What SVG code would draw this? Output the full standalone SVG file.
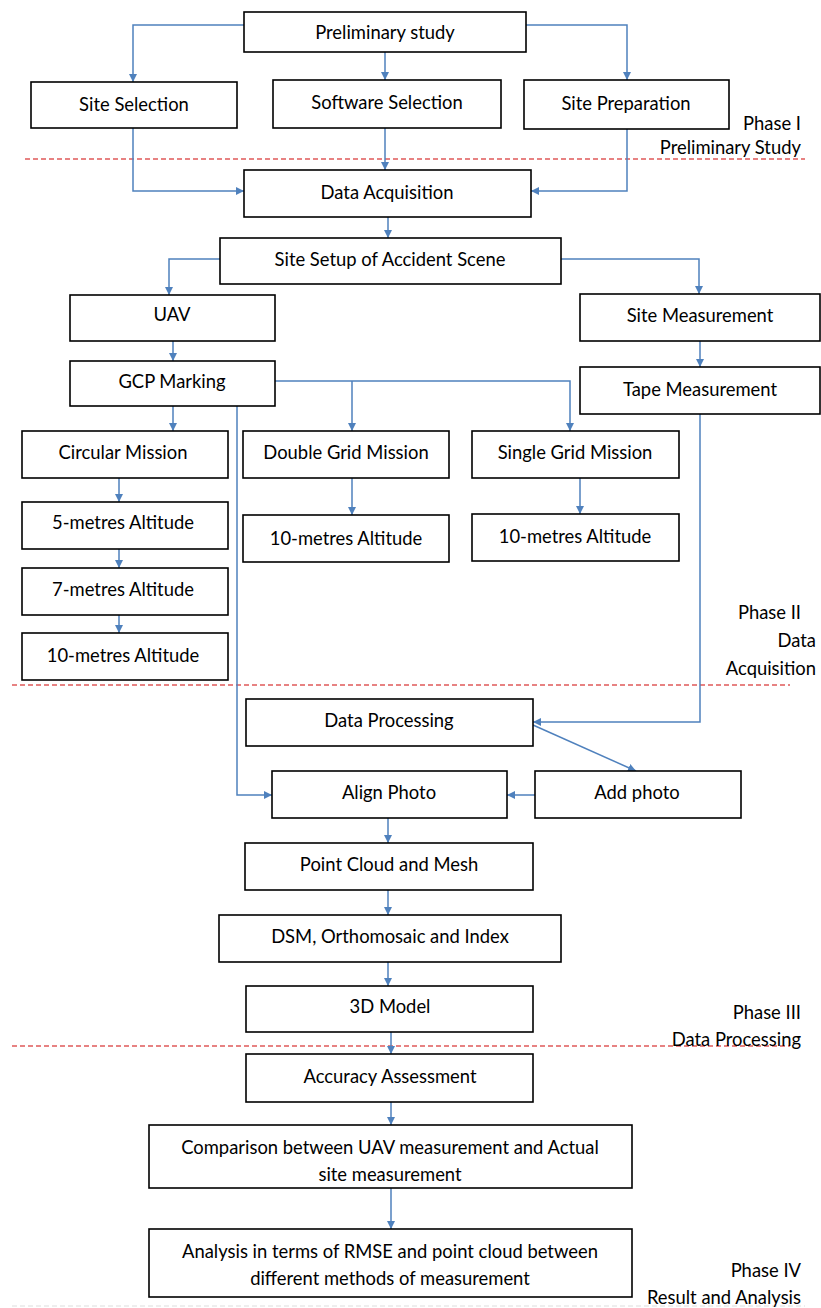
<svg xmlns="http://www.w3.org/2000/svg" width="821" height="1308" viewBox="0 0 821 1308">
<defs>
<style>
.box{fill:#fff;stroke:#000;stroke-width:1.6}
.t{font-family:Lato,"Open Sans",sans-serif;font-size:18.4px;fill:#000;text-anchor:middle;dominant-baseline:central}
.ph{font-family:Lato,"Open Sans",sans-serif;font-size:18.4px;fill:#000;text-anchor:end;dominant-baseline:central}
.c{fill:none;stroke:#4f81bd;stroke-width:1.5}
.red{stroke:#e05a5a;stroke-width:1.5;stroke-dasharray:5 3}
</style>
<marker id="a" viewBox="0 0 10 10" refX="10" refY="5" markerWidth="8" markerHeight="8" markerUnits="userSpaceOnUse" orient="auto"><path d="M0,0 L10,5 L0,10 z" fill="#4f81bd"/></marker>
</defs>
<rect width="821" height="1308" fill="#fff"/>
<g id="dividers">
<line class="red" x1="25" y1="159" x2="805" y2="159"/>
<line class="red" x1="12" y1="685" x2="790" y2="685"/>
<line class="red" x1="12" y1="1046" x2="790" y2="1046"/>
<line x1="12" y1="1306" x2="805" y2="1306" stroke="#ddd" stroke-width="1" stroke-dasharray="5 3"/>
</g>
<g id="phases">
<text class="ph" x="801" y="123">Phase I</text>
<text class="ph" x="801" y="147">Preliminary Study</text>
<text class="ph" x="801" y="612">Phase II</text>
<text class="ph" x="816" y="640">Data</text>
<text class="ph" x="816" y="668">Acquisition</text>
<text class="ph" x="801" y="1012">Phase III</text>
<text class="ph" x="801" y="1039">Data Processing</text>
<text class="ph" x="801" y="1270">Phase IV</text>
<text class="ph" x="801" y="1297">Result and Analysis</text>
</g>
<g id="connectors">
<path class="c" d="M244,25 H133 V82" marker-end="url(#a)"/>
<path class="c" d="M526,25 H627 V80" marker-end="url(#a)"/>
<path class="c" d="M385,52 V80" marker-end="url(#a)"/>
<path class="c" d="M133,128 V191 H244" marker-end="url(#a)"/>
<path class="c" d="M385,128 V170" marker-end="url(#a)"/>
<path class="c" d="M627,129 V191 H531" marker-end="url(#a)"/>
<path class="c" d="M388,217 V238" marker-end="url(#a)"/>
<path class="c" d="M220,259 H169 V295" marker-end="url(#a)"/>
<path class="c" d="M561,259 H699 V294" marker-end="url(#a)"/>
<path class="c" d="M173,341 V361" marker-end="url(#a)"/>
<path class="c" d="M700,341 V367" marker-end="url(#a)"/>
<path class="c" d="M275,381 H570 V431" marker-end="url(#a)"/>
<path class="c" d="M352,381 V431" marker-end="url(#a)"/>
<path class="c" d="M173,406 V431" marker-end="url(#a)"/>
<path class="c" d="M237,406 V795 H272" marker-end="url(#a)"/>
<path class="c" d="M119,478 V502" marker-end="url(#a)"/>
<path class="c" d="M119,549 V568" marker-end="url(#a)"/>
<path class="c" d="M119,615 V633" marker-end="url(#a)"/>
<path class="c" d="M352,478 V515" marker-end="url(#a)"/>
<path class="c" d="M580,478 V514" marker-end="url(#a)"/>
<path class="c" d="M700,414 V722 H533" marker-end="url(#a)"/>
<path class="c" d="M533,725 L636,771" marker-end="url(#a)"/>
<path class="c" d="M535,795 H507" marker-end="url(#a)"/>
<path class="c" d="M388,818 V843" marker-end="url(#a)"/>
<path class="c" d="M388,890 V915" marker-end="url(#a)"/>
<path class="c" d="M388,962 V986" marker-end="url(#a)"/>
<path class="c" d="M391,1032 V1054" marker-end="url(#a)"/>
<path class="c" d="M391,1102 V1125" marker-end="url(#a)"/>
<path class="c" d="M391,1188 V1229" marker-end="url(#a)"/>
</g>
<g id="n-prelim"><rect class="box" x="244" y="12" width="282" height="40"/><text class="t" x="385" y="32">Preliminary study</text></g>
<g id="n-sitesel"><rect class="box" x="31" y="82" width="206" height="46"/><text class="t" x="134" y="104">Site Selection</text></g>
<g id="n-softsel"><rect class="box" x="273" y="80" width="228" height="48"/><text class="t" x="387" y="102">Software Selection</text></g>
<g id="n-siteprep"><rect class="box" x="524" y="80" width="205" height="49"/><text class="t" x="626" y="103">Site Preparation</text></g>
<g id="n-dataacq"><rect class="box" x="244" y="170" width="287" height="47"/><text class="t" x="387" y="192">Data Acquisition</text></g>
<g id="n-setup"><rect class="box" x="220" y="238" width="341" height="46"/><text class="t" x="390" y="259">Site Setup of Accident Scene</text></g>
<g id="n-uav"><rect class="box" x="70" y="295" width="205" height="46"/><text class="t" x="172" y="314">UAV</text></g>
<g id="n-sitemeas"><rect class="box" x="580" y="294" width="240" height="47"/><text class="t" x="700" y="315">Site Measurement</text></g>
<g id="n-gcp"><rect class="box" x="70" y="361" width="205" height="45"/><text class="t" x="172" y="381">GCP Marking</text></g>
<g id="n-tape"><rect class="box" x="580" y="367" width="240" height="47"/><text class="t" x="700" y="389">Tape Measurement</text></g>
<g id="n-circ"><rect class="box" x="22" y="431" width="206" height="47"/><text class="t" x="123" y="452">Circular Mission</text></g>
<g id="n-double"><rect class="box" x="243" y="431" width="206" height="47"/><text class="t" x="346" y="452">Double Grid Mission</text></g>
<g id="n-single"><rect class="box" x="472" y="431" width="207" height="47"/><text class="t" x="575" y="452">Single Grid Mission</text></g>
<g id="n-alt5"><rect class="box" x="22" y="502" width="206" height="47"/><text class="t" x="123" y="522">5-metres Altitude</text></g>
<g id="n-dalt10"><rect class="box" x="243" y="515" width="206" height="47"/><text class="t" x="346" y="538">10-metres Altitude</text></g>
<g id="n-salt10"><rect class="box" x="472" y="514" width="207" height="47"/><text class="t" x="575" y="536">10-metres Altitude</text></g>
<g id="n-alt7"><rect class="box" x="22" y="568" width="206" height="47"/><text class="t" x="123" y="589">7-metres Altitude</text></g>
<g id="n-calt10"><rect class="box" x="22" y="633" width="206" height="47"/><text class="t" x="123" y="655">10-metres Altitude</text></g>
<g id="n-dataproc"><rect class="box" x="246" y="699" width="287" height="47"/><text class="t" x="389" y="720">Data Processing</text></g>
<g id="n-align"><rect class="box" x="272" y="771" width="235" height="47"/><text class="t" x="389" y="792">Align Photo</text></g>
<g id="n-add"><rect class="box" x="535" y="771" width="206" height="47"/><text class="t" x="637" y="792">Add photo</text></g>
<g id="n-pcloud"><rect class="box" x="245" y="843" width="288" height="47"/><text class="t" x="389" y="864">Point Cloud and Mesh</text></g>
<g id="n-dsm"><rect class="box" x="219" y="915" width="342" height="47"/><text class="t" x="390" y="936">DSM, Orthomosaic and Index</text></g>
<g id="n-3d"><rect class="box" x="246" y="986" width="287" height="46"/><text class="t" x="390" y="1006">3D Model</text></g>
<g id="n-acc"><rect class="box" x="246" y="1054" width="287" height="48"/><text class="t" x="390" y="1076">Accuracy Assessment</text></g>
<g id="n-comp"><rect class="box" x="149" y="1125" width="483" height="63"/><text class="t" x="390" y="1147">Comparison between UAV measurement and Actual</text><text class="t" x="390" y="1174">site measurement</text></g>
<g id="n-anal"><rect class="box" x="149" y="1229" width="483" height="68"/><text class="t" x="390" y="1251">Analysis in terms of RMSE and point cloud between</text><text class="t" x="390" y="1278">different methods of measurement</text></g>
</svg>
